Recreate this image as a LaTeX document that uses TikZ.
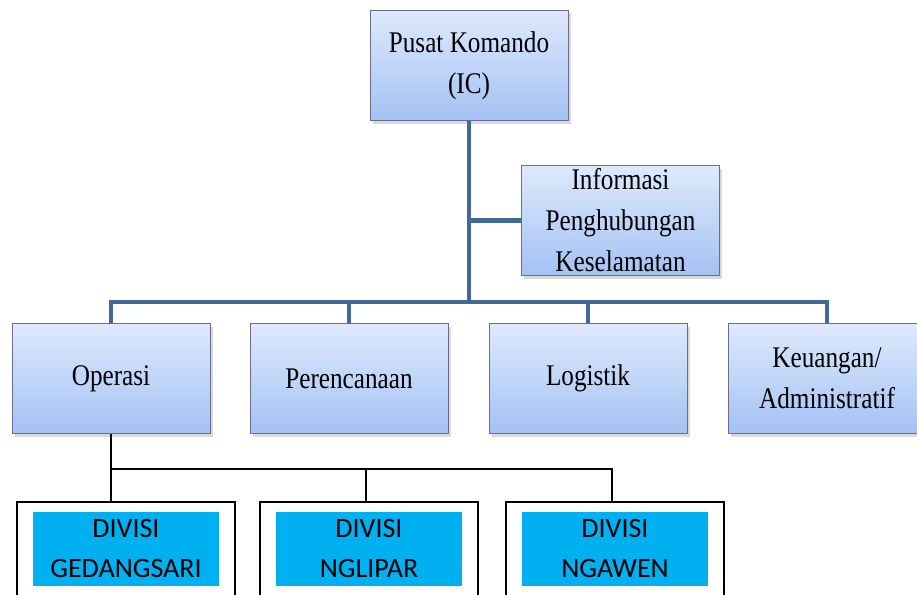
\documentclass[tikz,border=0pt]{standalone}
\usepackage{fontspec}
\setmainfont{Liberation Serif}
\newfontfamily\unitfont[FakeStretch=0.84]{Liberation Serif}
\newfontfamily\divfont{Carlito}
\usetikzlibrary{shadows}
\definecolor{unittop}{HTML}{DEE9FC}
\definecolor{unitbottom}{HTML}{A4C2F4}
\definecolor{linkblue}{HTML}{41699A}
\definecolor{divcyan}{HTML}{00B0F0}
\begin{document}
\begin{tikzpicture}[x=1pt,y=-1pt,
    unit/.style={draw=gray!85!blue, line width=1pt, top color=unittop, bottom color=unitbottom,
      minimum width=198pt, minimum height=110pt, inner sep=0pt, align=center,
      font=\unitfont\fontsize{30}{41}\selectfont,
      drop shadow={opacity=0.3, shadow xshift=2.5pt, shadow yshift=-3pt}},
    link/.style={draw=linkblue, line width=4.5pt},
    divbox/.style={draw=black, line width=2pt, fill=white, minimum width=218pt, minimum height=120pt, anchor=north},
    divlabel/.style={fill=divcyan, minimum width=186pt, minimum height=74pt, inner sep=0pt, align=center,
      font=\divfont\fontsize{28}{40}\selectfont},
    divlink/.style={draw=black, line width=2pt}]
  \useasboundingbox (0,0) rectangle (917,594);
  \node[unit] (ic) at (469,65.5) {Pusat Komando\\(IC)};
  \node[unit] (info) at (620.5,220.5) {Informasi\\Penghubungan\\Keselamatan};
  \node[unit] (op) at (111,378.5) {Operasi};
  \node[unit] (per) at (349,378.5) {Perencanaan};
  \node[unit] (log) at (588,378.5) {Logistik};
  \node[unit] (keu) at (827,378.5) {Keuangan/\\Administratif};
  \coordinate (bus) at (469,302);
  \draw[link] (ic.south) -- (bus);
  \draw[link] (ic.south |- info.west) -- (info.west);
  \draw[link] (op.north) |- (keu.north |- bus) -- (keu.north);
  \draw[link] (per.north) -- (per.north |- bus);
  \draw[link] (log.north) -- (log.north |- bus);
  \node[divbox] (dg) at (126,501) {};
  \node[divbox] (dn) at (369,501) {};
  \node[divbox] (dw) at (614.5,501) {};
  \node[divlabel] (lg) at (126,549) {DIVISI\\GEDANGSARI};
  \node[divlabel] (ln) at (369,549) {DIVISI\\NGLIPAR};
  \node[divlabel] (lw) at (615,549) {DIVISI\\NGAWEN};
  \coordinate (forkn) at (366,469);
  \coordinate (forkw) at (612,469);
  \draw[divlink] (op.south) -- (op.south |- dg.north);
  \draw[divlink] (op.south |- forkw) -- (forkw) -- (forkw |- dw.north);
  \draw[divlink] (forkn) -- (forkn |- dn.north);
\end{tikzpicture}
\end{document}
